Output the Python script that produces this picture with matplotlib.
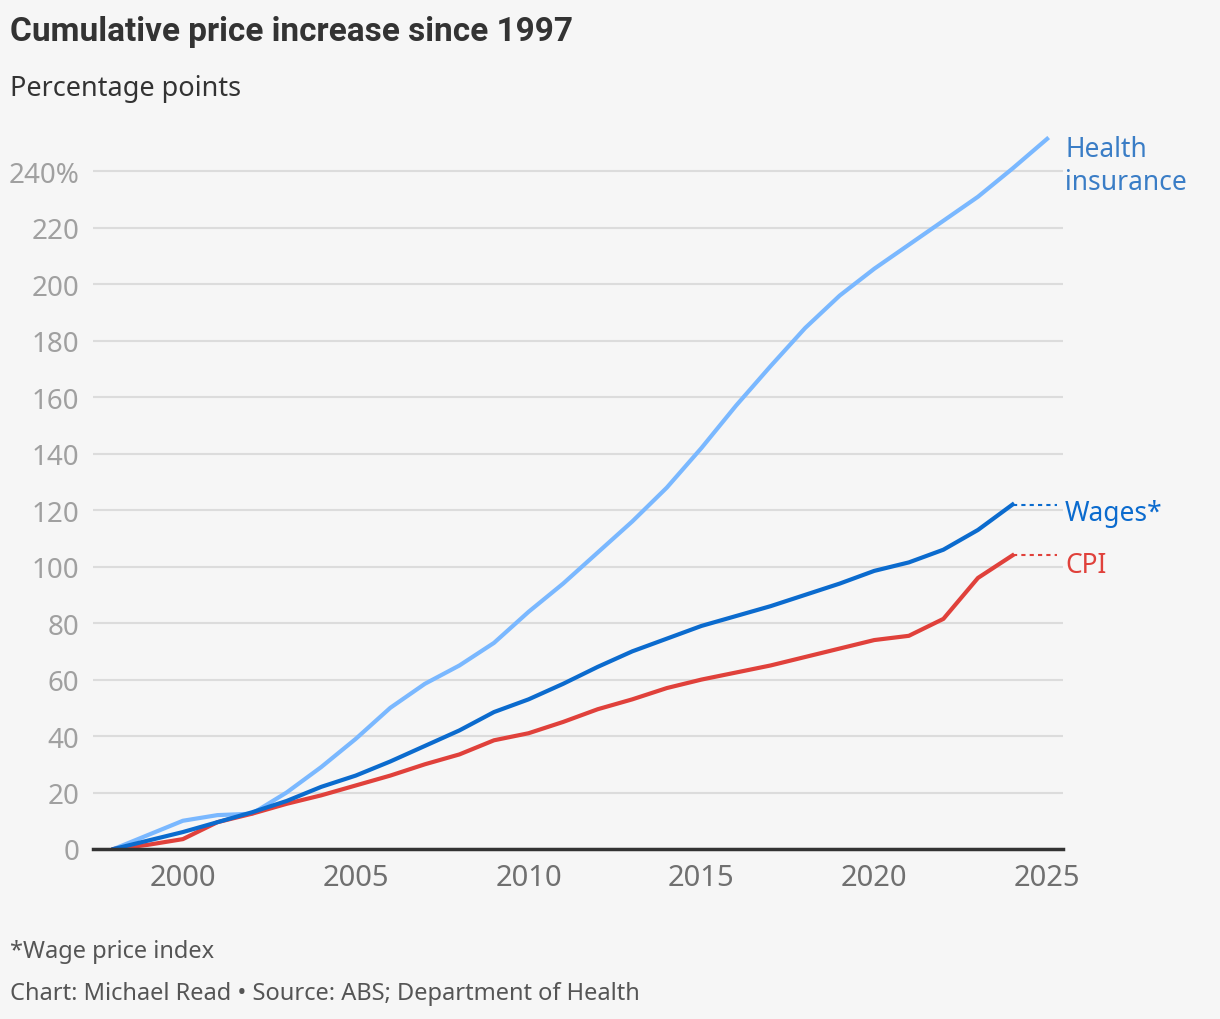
import numpy as np
import matplotlib.pyplot as plt

plt.rcParams['font.family'] = ['Noto Sans', 'DejaVu Sans']

years_hi = list(range(1998, 2026))
health = [0, 5, 10, 12, 12.5, 20, 29, 39, 50, 58.5, 65, 73, 84, 94, 105, 116,
          128, 142, 157, 171, 184.5, 196, 205.5, 214, 222.5, 231, 241, 251.5]
years = list(range(1998, 2025))
wages = [0, 3, 6, 9.5, 13, 17, 22, 26, 31, 36.5, 42, 48.5, 53, 58.5, 64.5, 70,
         74.5, 79, 82.5, 86, 90, 94, 98.5, 101.5, 106, 113, 122]
cpi = [0, 1.5, 3.5, 9.5, 12.5, 16, 19, 22.5, 26, 30, 33.5, 38.5, 41, 45, 49.5, 53,
       57, 60, 62.5, 65, 68, 71, 74, 75.5, 81.5, 96, 104]

yticks = [0, 20, 40, 60, 80, 100, 120, 140, 160, 180, 200, 220, 240]
xticks = [2000, 2005, 2010, 2015, 2020, 2025]

bg = '#f6f6f6'
c_health = '#7ab8ff'
c_wages = '#0b6bce'
c_cpi = '#e0413b'

fig = plt.figure(figsize=(12.2, 10.2), dpi=100, facecolor=bg)
ax = fig.add_axes([93/1220, 170/1020, 970/1220, 720/1020], facecolor=bg)

ax.plot(years_hi, health, color=c_health, lw=3, solid_joinstyle='round', zorder=3)
ax.plot(years, cpi, color=c_cpi, lw=3, solid_joinstyle='round', zorder=4)
ax.plot(years, wages, color=c_wages, lw=3, solid_joinstyle='round', zorder=5)

# dotted leaders to the labels
ax.plot([years[-1], 2025.3], [wages[-1], wages[-1]], color=c_wages, lw=1.5,
        ls=(0, (2, 2)), clip_on=False)
ax.plot([years[-1], 2025.3], [cpi[-1], cpi[-1]], color=c_cpi, lw=1.5,
        ls=(0, (2, 2)), clip_on=False)

ax.set_xlim(1997.4, 2025.46)
ax.set_ylim(0, 255)
ax.set_yticks(yticks)
ax.set_yticklabels([str(v) + '%' if v == 240 else str(v) for v in yticks])
ax.set_xticks(xticks)
ax.grid(axis='y', color='#dcdcdc', lw=1.5)
ax.set_axisbelow(True)
for s in ['top', 'right', 'left']:
    ax.spines[s].set_visible(False)
ax.spines['bottom'].set_color('#333333')
ax.spines['bottom'].set_linewidth(2.5)
ax.spines['bottom'].set_zorder(6)
ax.tick_params(axis='y', length=0, labelsize=20, labelcolor='#a0a0a0', pad=10)
ax.tick_params(axis='x', length=0, labelsize=21, labelcolor='#707070', pad=10)

ax.text(2025.52, 253, 'Health\ninsurance', color='#3a7dc6', fontsize=19,
        va='top', ha='left', linespacing=1.25)
ax.text(2025.52, wages[-1] - 3, 'Wages*', color=c_wages, fontsize=19,
        va='center', ha='left')
ax.text(2025.52, cpi[-1] - 3.5, 'CPI', color=c_cpi, fontsize=19,
        va='center', ha='left')

fig.text(10/1220, 1 - 32/1020, 'Cumulative price increase since 1997',
         fontsize=24, fontweight='bold', color='#333333', va='center',
         family=['Roboto', 'DejaVu Sans'])
fig.text(10/1220, 1 - 89/1020, 'Percentage points', fontsize=19.5,
         color='#333333', va='center')
fig.text(10/1220, 1 - 952/1020, '*Wage price index', fontsize=17,
         color='#555555', va='center')
fig.text(10/1220, 1 - 994/1020, 'Chart: Michael Read \u2022 Source: ABS; Department of Health',
         fontsize=17, color='#555555', va='center')

fig.savefig('out.png', dpi=100, facecolor=bg)
